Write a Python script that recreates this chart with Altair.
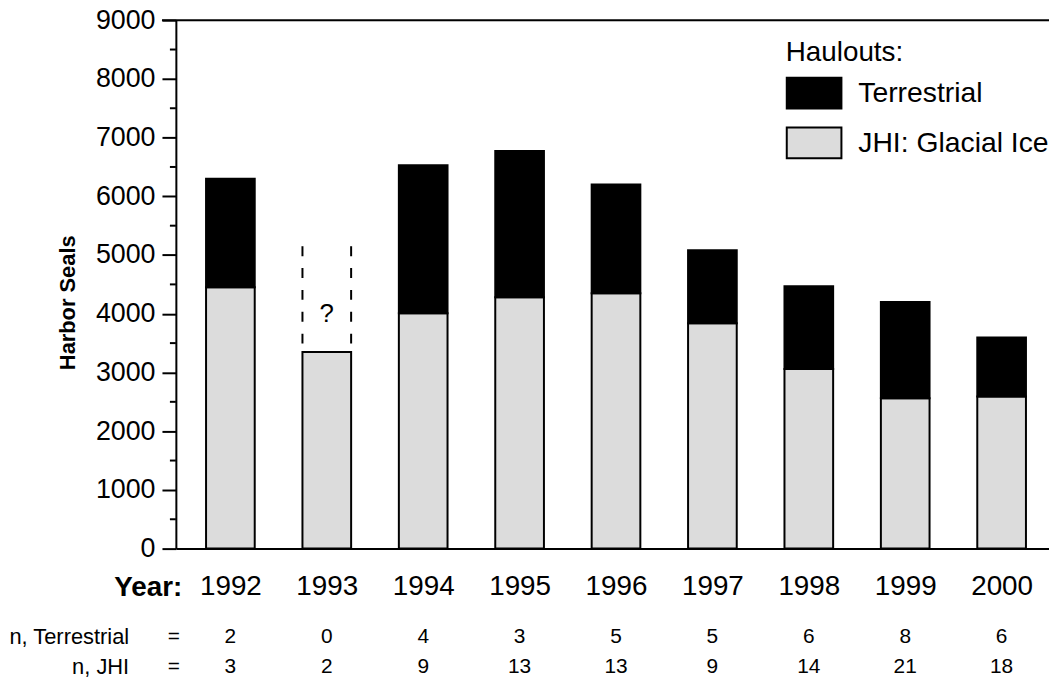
import altair as alt
import pandas as pd

# ---- data ----
years = [1992, 1993, 1994, 1995, 1996, 1997, 1998, 1999, 2000]
jhi = [4450, 3350, 4010, 4280, 4350, 3840, 3060, 2560, 2590]
terrestrial = [1850, 0, 2520, 2490, 1850, 1240, 1410, 1640, 1005]
n_terrestrial = [2, 0, 4, 3, 5, 5, 6, 8, 6]
n_jhi = [3, 2, 9, 13, 13, 9, 14, 21, 18]
unknown_year = [1993]
unknown_low = [3350]
unknown_high = [5150]
unknown_mark = [4000]
y_major = [0, 1000, 2000, 3000, 4000, 5000, 6000, 7000, 8000, 9000]
y_minor = [500, 1500, 2500, 3500, 4500, 5500, 6500, 7500, 8500]
series_names = ["Terrestrial", "JHI: Glacial Ice"]
series_colors = ["#000000", "#dcdcdc"]
row_labels = ["n, Terrestrial", "n, JHI"]

FONT = "Liberation Sans"
W, H = 879, 532
ROW_Y = [621, 651]
XT = "Year:"
YT = "Harbor Seals"

rows = []
for i, yr in enumerate(years):
    rows.append({"year": yr, "haulout": "JHI: Glacial Ice", "count": jhi[i], "ord": 0})
    if terrestrial[i] > 0:
        rows.append({"year": yr, "haulout": "Terrestrial", "count": terrestrial[i], "ord": 1})
bar_df = pd.DataFrame(rows)
n_df = pd.DataFrame({"year": years, "nt": n_terrestrial, "nj": n_jhi})
unk_df = pd.DataFrame({"year": unknown_year, "lo": unknown_low, "hi": unknown_high,
                       "mark": unknown_mark, "q": ["?"]})
minor_df = pd.DataFrame({"v": y_minor})
top_df = pd.DataFrame({"v": [9000]})
lab_df = pd.DataFrame({"lab": row_labels, "eq": ["=", "="], "row": [0, 1]})

x_scale = alt.Scale(domain=[1991.486, 2000.44], nice=False, zero=False)
y_scale = alt.Scale(domain=[0, 9000], nice=False)

legend_symbol = "M-1,-1H2.55V1H-1Z"

bars = alt.Chart(bar_df).mark_bar(size=49, stroke="black", strokeWidth=2, strokeJoin="miter").encode(
    x=alt.X("year:Q", scale=x_scale,
            axis=alt.Axis(values=years, format="d", title=XT, ticks=False, tickSize=0,
                          labelFontSize=28, labelPadding=24, labelColor="black", labelFont=FONT,
                          domainColor="black", domainWidth=2, grid=False,
                          titleFont=FONT, titleFontSize=28, titleFontWeight="bold", titleColor="black",
                          titleX=6, titleY=47, titleAlign="right", titleBaseline="alphabetic",
                          titleAngle=0)),
    y=alt.Y("count:Q", stack="zero", scale=y_scale,
            axis=alt.Axis(values=y_major, format="d", title=YT, tickSize=14, tickWidth=2,
                          tickColor="black", labelFontSize=27, labelPadding=7, labelFont=FONT,
                          labelColor="black", domainColor="black", domainWidth=2, grid=False,
                          titleFont=FONT, titleFontSize=22, titleFontWeight="bold",
                          titleColor="black", titleX=-109, titleY=284, titleAngle=-90,
                          titleAlign="center", titleBaseline="middle")),
    color=alt.Color("haulout:N",
                    scale=alt.Scale(domain=series_names, range=series_colors),
                    legend=alt.Legend(title="Haulouts:", orient="none", legendX=614, legendY=19,
                                      padding=0, symbolType=legend_symbol, symbolSize=961,
                                      symbolStrokeColor="black", symbolStrokeWidth=2,
                                      symbolOpacity=1, labelOffset=40, labelFontSize=28.5,
                                      labelFont=FONT, labelColor="black", titleFont=FONT,
                                      titleFontSize=28, titleFontWeight="normal",
                                      titleColor="black", titlePadding=10, rowPadding=11,
                                      labelLimit=400)),
    order=alt.Order("ord:Q"),
)


def X(field):
    return alt.X(field, type="quantitative", scale=x_scale, title=XT)


def Y(field):
    return alt.Y(field, type="quantitative", scale=y_scale, title=YT)


minor = alt.Chart(minor_df).mark_rule(color="black", strokeWidth=2).encode(
    y=Y("v"), x=alt.value(-6), x2=alt.value(0))

top = alt.Chart(top_df).mark_rule(color="black", strokeWidth=2).encode(
    y=Y("v"), x=alt.value(-14), x2=alt.value(W))

dash_l = alt.Chart(unk_df).mark_rule(color="black", strokeWidth=2, strokeDash=[10, 12],
                                     xOffset=-24.5).encode(x=X("year"), y=Y("hi"), y2="lo:Q")
dash_r = alt.Chart(unk_df).mark_rule(color="black", strokeWidth=2, strokeDash=[10, 12],
                                     xOffset=24.5).encode(x=X("year"), y=Y("hi"), y2="lo:Q")
qmark = alt.Chart(unk_df).mark_text(font=FONT, fontSize=26, color="black").encode(
    x=X("year"), y=Y("mark"), text="q:N")

nt_text = alt.Chart(n_df).mark_text(font=FONT, fontSize=21, color="black", baseline="middle").encode(
    x=X("year"), y=alt.value(ROW_Y[0]), text="nt:Q")
nj_text = alt.Chart(n_df).mark_text(font=FONT, fontSize=21, color="black", baseline="middle").encode(
    x=X("year"), y=alt.value(ROW_Y[1]), text="nj:Q")

row_layers = []
for r in range(2):
    row_layers.append(
        alt.Chart(lab_df).transform_filter(alt.datum.row == r).mark_text(
            font=FONT, fontSize=22, color="black", align="right", baseline="middle"
        ).encode(x=alt.value(-47), y=alt.value(ROW_Y[r]), text="lab:N"))
    row_layers.append(
        alt.Chart(lab_df).transform_filter(alt.datum.row == r).mark_text(
            font=FONT, fontSize=21, color="black", align="center", baseline="middle"
        ).encode(x=alt.value(-2), y=alt.value(ROW_Y[r]), text="eq:N"))

chart = alt.layer(bars, minor, top, dash_l, dash_r, qmark, nt_text, nj_text, *row_layers).properties(
    width=W, height=H,
    autosize=alt.AutoSizeParams(type="none"),
    padding={"left": 169, "top": 10, "right": 0, "bottom": 128},
).configure_view(stroke=None).configure(background="white")

chart.save("out.html", embed_options={"renderer": "svg", "actions": False})
